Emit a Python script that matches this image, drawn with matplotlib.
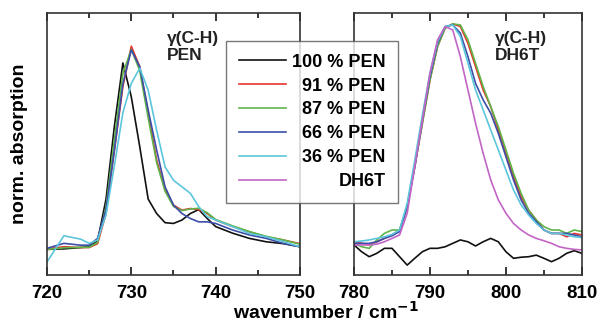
import matplotlib.pyplot as plt
import numpy as np
from matplotlib.ticker import MultipleLocator

plt.rcParams['font.family'] = ['Liberation Sans', 'DejaVu Sans']
plt.rcParams['font.weight'] = 'bold'

# ---- data (normalized absorption) ----
labels = ['100 % PEN', '91 % PEN', '87 % PEN', '66 % PEN', '36 % PEN', 'DH6T']
colors = ['#111111', '#e8342c', '#5fb548', '#3c4ea8', '#5cc6dc', '#c265c6']

# PEN band 720-750
x_pen = [720, 722, 724, 725, 726, 727, 728, 729, 730, 731, 732, 733, 734, 735,
         736, 737, 738, 739, 740, 742, 744, 746, 748, 750]
pen_100 = [0.098, 0.100, 0.105, 0.108, 0.130, 0.290, 0.570, 0.810, 0.680, 0.490,
           0.290, 0.235, 0.200, 0.197, 0.210, 0.235, 0.250, 0.216, 0.185, 0.160,
           0.140, 0.127, 0.120, 0.108]
pen_91 = [0.100, 0.108, 0.105, 0.105, 0.120, 0.235, 0.477, 0.720, 0.874, 0.795,
          0.617, 0.440, 0.325, 0.267, 0.248, 0.254, 0.250, 0.235, 0.210, 0.185,
          0.165, 0.146, 0.134, 0.120]
pen_87 = [0.098, 0.104, 0.106, 0.106, 0.125, 0.260, 0.520, 0.770, 0.862, 0.780,
          0.600, 0.430, 0.320, 0.262, 0.246, 0.252, 0.255, 0.238, 0.212, 0.188,
          0.166, 0.148, 0.134, 0.118]
pen_66 = [0.102, 0.121, 0.114, 0.114, 0.140, 0.250, 0.480, 0.730, 0.860, 0.795,
          0.630, 0.478, 0.337, 0.267, 0.235, 0.216, 0.203, 0.203, 0.197, 0.172,
          0.153, 0.140, 0.121, 0.108]
pen_36 = [0.050, 0.150, 0.137, 0.121, 0.134, 0.230, 0.420, 0.620, 0.732, 0.790,
          0.706, 0.553, 0.413, 0.362, 0.337, 0.312, 0.261, 0.223, 0.210, 0.185,
          0.159, 0.146, 0.128, 0.108]

# DH6T band 780-810
x_dh = list(range(780, 811))
dh_100 = [0.115, 0.089, 0.070, 0.083, 0.102, 0.102, 0.070, 0.038, 0.064, 0.089,
          0.102, 0.102, 0.108, 0.121, 0.134, 0.127, 0.111, 0.127, 0.140, 0.127,
          0.089, 0.064, 0.068, 0.070, 0.076, 0.064, 0.051, 0.064, 0.083, 0.093, 0.083]
dh_91 = [0.127, 0.121, 0.115, 0.127, 0.140, 0.153, 0.172, 0.261, 0.414, 0.580,
         0.745, 0.873, 0.943, 0.959, 0.949, 0.885, 0.796, 0.707, 0.643, 0.554,
         0.465, 0.376, 0.299, 0.248, 0.210, 0.172, 0.159, 0.159, 0.146, 0.159, 0.153]
dh_87 = [0.121, 0.108, 0.102, 0.134, 0.159, 0.172, 0.172, 0.261, 0.414, 0.580,
         0.745, 0.873, 0.943, 0.959, 0.955, 0.898, 0.809, 0.720, 0.643, 0.567,
         0.478, 0.389, 0.312, 0.248, 0.210, 0.185, 0.172, 0.172, 0.159, 0.172, 0.166]
dh_66 = [0.121, 0.121, 0.121, 0.127, 0.140, 0.150, 0.166, 0.261, 0.414, 0.592,
         0.758, 0.885, 0.949, 0.955, 0.924, 0.834, 0.732, 0.669, 0.618, 0.541,
         0.452, 0.363, 0.287, 0.236, 0.204, 0.172, 0.159, 0.159, 0.159, 0.153, 0.146]
dh_36 = [0.127, 0.130, 0.134, 0.140, 0.146, 0.155, 0.172, 0.274, 0.439, 0.611,
         0.771, 0.892, 0.949, 0.955, 0.911, 0.809, 0.707, 0.631, 0.554, 0.478,
         0.401, 0.325, 0.268, 0.229, 0.197, 0.172, 0.159, 0.159, 0.153, 0.146, 0.143]
dh_dh = [0.115, 0.115, 0.115, 0.118, 0.127, 0.140, 0.153, 0.236, 0.414, 0.592,
         0.771, 0.898, 0.949, 0.936, 0.834, 0.707, 0.580, 0.465, 0.363, 0.287,
         0.236, 0.197, 0.172, 0.153, 0.140, 0.131, 0.121, 0.108, 0.102, 0.098, 0.096]

pen_series = [pen_100, pen_91, pen_87, pen_66, pen_36]
dh_series = [dh_100, dh_91, dh_87, dh_66, dh_36, dh_dh]

fig = plt.figure(figsize=(5.98, 3.29), dpi=100)
ax1 = fig.add_axes([0.0786, 0.164, 0.423, 0.796])
ax2 = fig.add_axes([0.592, 0.164, 0.381, 0.796])

for y, c, lab in zip(pen_series, colors, labels):
    ax1.plot(x_pen, y, color=c, lw=1.2, label=lab)
ax1.plot([], [], color=colors[5], lw=1.2, label=labels[5])
for y, c in zip(dh_series, colors):
    ax2.plot(x_dh, y, color=c, lw=1.2)

ax1.set_xlim(720, 750)
ax2.set_xlim(780, 810)
for ax in (ax1, ax2):
    ax.set_ylim(0, 1)
    ax.set_yticks([])
    ax.xaxis.set_major_locator(MultipleLocator(10))
    ax.xaxis.set_minor_locator(MultipleLocator(5))
    ax.tick_params(axis='x', which='both', direction='in', top=True,
                   labelsize=13.5, pad=7)
    ax.tick_params(axis='x', which='major', length=6, width=1.1)
    ax.tick_params(axis='x', which='minor', length=3.5, width=1.1)
    for s in ax.spines.values():
        s.set_linewidth(1.2)
        s.set_color('#333333')
    for t in ax.get_xticklabels():
        t.set_fontweight('bold')

ax1.text(0.474, 0.93, 'γ(C-H)\nPEN', transform=ax1.transAxes, fontsize=12.5,
         fontweight='bold', va='top', ha='left', linespacing=1.15, color='#222222')
ax2.text(0.62, 0.93, 'γ(C-H)\nDH6T', transform=ax2.transAxes, fontsize=12.5,
         fontweight='bold', va='top', ha='left', linespacing=1.15, color='#222222')

ax1.set_ylabel('norm. absorption', fontsize=14, fontweight='bold', labelpad=14)
fig.text(0.545, 0.03, 'wavenumber / cm$^{\\mathbf{-1}}$', fontsize=14,
         fontweight='bold', ha='center', va='baseline')

leg = fig.legend(loc='upper left', bbox_to_anchor=(0.378, 0.875), fontsize=13,
                 frameon=True, fancybox=False, edgecolor='#555555',
                 handlelength=2.6, handletextpad=0.35, labelspacing=0.38,
                 borderpad=0.7, borderaxespad=0)
leg.get_frame().set_linewidth(1.0)
leg.set_zorder(5)

# right-align the legend labels
fig.canvas.draw()
r = fig.canvas.get_renderer()
widths = [t.get_window_extent(r).width for t in leg.get_texts()]
wmax = max(widths)
for t, w in zip(leg.get_texts(), widths):
    t.set_position((wmax - w, 0))

fig.savefig('out.png', dpi=100)
